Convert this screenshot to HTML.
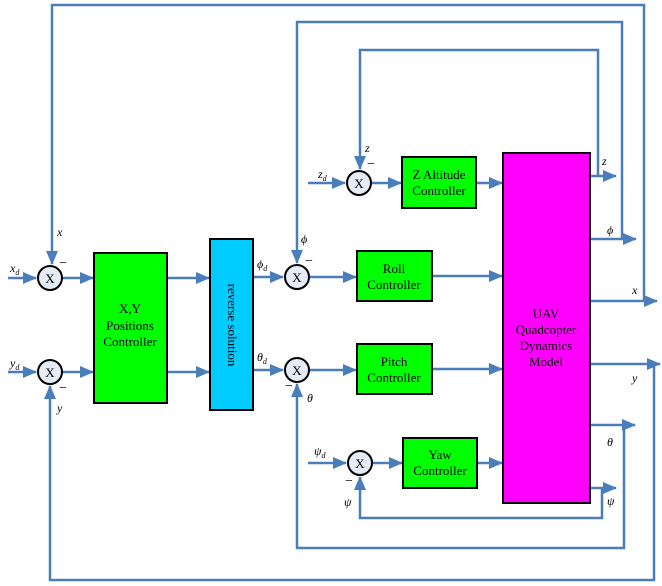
<!DOCTYPE html>
<html><head><meta charset="utf-8"><style>
body{margin:0;background:#fff}
svg{display:block}
text{font-family:"Liberation Serif",serif;fill:#000}
.l{stroke:#4a7ebb;stroke-width:2.5;fill:none}
.it{font-style:italic;font-size:12px}
</style></head><body>
<svg width="662" height="586" viewBox="0 0 662 586">
<defs><marker id="a" markerWidth="8" markerHeight="8" refX="7" refY="4" orient="auto" markerUnits="userSpaceOnUse"><path d="M0,0 L8,4 L0,8 Z" fill="#4a7ebb" transform="scale(1)"/></marker>
<marker id="b" markerWidth="14" markerHeight="12" refX="13" refY="6" orient="auto" markerUnits="userSpaceOnUse"><path d="M0,0 L14,6 L0,12 Z" fill="#4a7ebb"/></marker></defs>
<g class="l">
<!-- x loop -->
<polyline points="590,301 657,301" marker-end="url(#b)"/>
<polyline points="644,301 644,5 52,5 52,264" marker-end="url(#b)"/>
<!-- y loop -->
<polyline points="590,364 660,364" marker-end="url(#b)"/>
<polyline points="654,364 654,580 50,580 50,386" marker-end="url(#b)"/>
<!-- phi loop -->
<polyline points="590,239 636,239" marker-end="url(#b)"/>
<polyline points="622,239 622,22 297,22 297,263" marker-end="url(#b)"/>
<!-- z loop -->
<polyline points="590,176 616,176" marker-end="url(#b)"/>
<polyline points="598,176 598,50 360,50 360,169" marker-end="url(#b)"/>
<!-- theta loop -->
<polyline points="590,425 635,425" marker-end="url(#b)"/>
<polyline points="624,425 624,548 297,548 297,384" marker-end="url(#b)"/>
<!-- psi loop -->
<polyline points="590,488 616,488" marker-end="url(#b)"/>
<polyline points="602,488 602,518 360,518 360,477" marker-end="url(#b)"/>
<!-- forward -->
<line x1="8" y1="278" x2="36" y2="278" marker-end="url(#b)"/>
<line x1="62" y1="278" x2="93" y2="278" marker-end="url(#b)"/>
<line x1="8" y1="372" x2="36" y2="372" marker-end="url(#b)"/>
<line x1="62" y1="372" x2="93" y2="372" marker-end="url(#b)"/>
<line x1="167" y1="278" x2="209" y2="278" marker-end="url(#b)"/>
<line x1="167" y1="372" x2="209" y2="372" marker-end="url(#b)"/>
<line x1="253" y1="277" x2="283" y2="277" marker-end="url(#b)"/>
<line x1="253" y1="370" x2="283" y2="370" marker-end="url(#b)"/>
<line x1="309" y1="277" x2="356" y2="277" marker-end="url(#b)"/>
<line x1="309" y1="370" x2="356" y2="370" marker-end="url(#b)"/>
<line x1="432" y1="276" x2="502" y2="276" marker-end="url(#b)"/>
<line x1="432" y1="369" x2="502" y2="369" marker-end="url(#b)"/>
<line x1="308" y1="183" x2="345" y2="183" marker-end="url(#b)"/>
<line x1="371" y1="183" x2="401" y2="183" marker-end="url(#b)"/>
<line x1="476" y1="183" x2="502" y2="183" marker-end="url(#b)"/>
<line x1="308" y1="463" x2="346" y2="463" marker-end="url(#b)"/>
<line x1="372" y1="463" x2="402" y2="463" marker-end="url(#b)"/>
<line x1="477" y1="463" x2="502" y2="463" marker-end="url(#b)"/>
</g>
<g stroke="#000" stroke-width="2">
<rect x="94" y="253" width="73" height="150" fill="#00ff00"/>
<rect x="210" y="239" width="43" height="171" fill="#00ccff"/>
<rect x="402" y="157" width="74" height="51" fill="#00ff00"/>
<rect x="357" y="251" width="75" height="50" fill="#00ff00"/>
<rect x="357" y="344" width="75" height="50" fill="#00ff00"/>
<rect x="403" y="438" width="74" height="50" fill="#00ff00"/>
<rect x="503" y="153" width="87" height="350" fill="#ff00ff"/>
<g fill="#e6ecf5">
<circle cx="50" cy="278" r="12"/><circle cx="50" cy="372" r="12"/>
<circle cx="297" cy="277" r="12"/><circle cx="297" cy="370" r="12"/>
<circle cx="359" cy="183" r="12"/><circle cx="360" cy="463" r="12"/>
</g></g>
<g font-size="13" text-anchor="middle">
<text x="50" y="283">X</text><text x="50" y="377">X</text>
<text x="297" y="282">X</text><text x="297" y="375">X</text>
<text x="359" y="188">X</text><text x="360" y="468">X</text>
<text x="130" y="313">X,Y</text><text x="130" y="330">Positions</text><text x="130" y="346">Controller</text>
<text x="439" y="179">Z Altitude</text><text x="439" y="195">Controller</text>
<text x="394" y="273">Roll</text><text x="394" y="289">Controller</text>
<text x="394" y="366">Pitch</text><text x="394" y="382">Controller</text>
<text x="440" y="459">Yaw</text><text x="440" y="475">Controller</text>
<text x="546" y="318">UAV</text><text x="546" y="334">Quadcopter</text><text x="546" y="350">Dynamics</text><text x="546" y="366">Model</text>
<text transform="translate(228,325) rotate(90)">reverse solution</text>
</g>
<g font-size="14">
<text x="59" y="267">−</text><text x="59" y="392">−</text>
<text x="305" y="265">−</text><text x="285" y="390">−</text>
<text x="367" y="168">−</text><text x="345" y="485">−</text>
</g>
<g class="it">
<text x="57" y="236">x</text><text x="10" y="272">x<tspan font-size="8" dy="3">d</tspan></text>
<text x="10" y="367">y<tspan font-size="8" dy="3">d</tspan></text>
<text x="57" y="412">y</text>
<text x="301" y="243">ϕ</text><text x="257" y="268">ϕ<tspan font-size="8" dy="3">d</tspan></text>
<text x="257" y="361">θ<tspan font-size="8" dy="3">d</tspan></text><text x="307" y="402">θ</text>
<text x="365" y="152">z</text><text x="318" y="178">z<tspan font-size="8" dy="3">d</tspan></text>
<text x="314" y="455">ψ<tspan font-size="8" dy="3">d</tspan></text><text x="344" y="506">ψ</text>
<text x="602" y="165">z</text><text x="607" y="234">ϕ</text><text x="632" y="294">x</text>
<text x="632" y="382">y</text><text x="607" y="446">θ</text><text x="607" y="505">ψ</text>
</g>
</svg>
</body></html>
